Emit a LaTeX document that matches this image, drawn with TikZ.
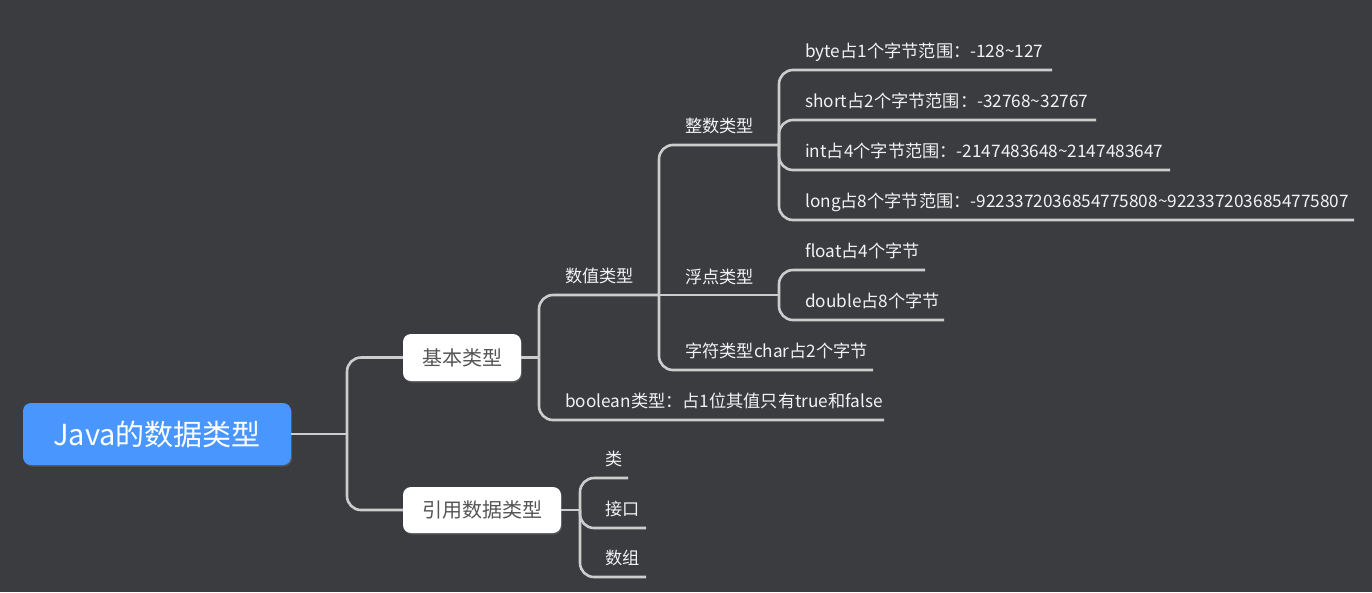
\documentclass[tikz,border=0pt]{standalone}
\usepackage{fontspec}
\setmainfont{Noto Sans CJK SC}
\usetikzlibrary{shadows}
\definecolor{bgc}{HTML}{3A3C40}
\definecolor{linec}{HTML}{CDCDCD}
\definecolor{labelc}{HTML}{F2F2F2}
\definecolor{boxtext}{HTML}{555555}
\definecolor{rootc}{HTML}{4A96FF}
\begin{document}
\begin{tikzpicture}[x=1pt,y=-1pt,
  conn/.style={draw=linec, line width=2.6pt, rounded corners=14pt},
  lbl/.style={anchor=base west, inner sep=0pt, text=labelc, font=\fontsize{17.2}{20}\selectfont},
  box/.style={fill=white, rounded corners=8pt, text=boxtext, font=\fontsize{20}{24}\selectfont, inner sep=0pt,
    drop shadow={shadow xshift=1pt, shadow yshift=-1.5pt, opacity=0.35}},
  rootbox/.style={fill=rootc, rounded corners=8pt, text=white, font=\fontsize{29}{34}\selectfont, inner sep=0pt,
    minimum width=268pt, minimum height=62pt,
    drop shadow={shadow xshift=1pt, shadow yshift=-1.5pt, opacity=0.35}},
]
\fill[bgc] (0,0) rectangle (1372,592);
\useasboundingbox (0,0) rectangle (1372,592);

% junction and line-end coordinates
\coordinate (j0) at (347,434);
\coordinate (j1) at (539,357.5);
\coordinate (j2) at (659,295);
\coordinate (j3) at (779,145);
\coordinate (j4) at (779,295);
\coordinate (j5) at (580,510);
\coordinate (boolE) at (884,420);
\coordinate (charE) at (873,370);
\coordinate (byteE) at (1052,70);
\coordinate (shortE) at (1096,120);
\coordinate (intE) at (1170,170);
\coordinate (longE) at (1354,220);
\coordinate (floatE) at (925,270);
\coordinate (doubleE) at (944,320);
\coordinate (leiE) at (628,478);
\coordinate (jiekouE) at (646,528);
\coordinate (shuzuE) at (646,577);

% connectors
\draw[conn] (j0) |- (403,357.5);
\draw[conn] (j0) |- (403,510);
\draw[conn] (j1) |- (j2);
\draw[conn] (j1) |- (boolE);
\draw[conn] (j2) |- (j3);
\draw[conn] (j2) -- (j4);
\draw[conn] (j2) |- (charE);
\draw[conn] (j3) |- (byteE);
\draw[conn] (j3) |- (shortE);
\draw[conn] (j3) |- (intE);
\draw[conn] (j3) |- (longE);
\draw[conn] (j4) |- (floatE);
\draw[conn] (j4) |- (doubleE);
\draw[conn] (j5) |- (leiE);
\draw[conn] (j5) |- (jiekouE);
\draw[conn] (j5) |- (shuzuE);

% nodes
\node[rootbox] (root) at (157,434) {Java的数据类型};
\node[box, minimum width=118pt, minimum height=47pt] (jiben) at (462,357.5) {基本类型};
\node[box, minimum width=158pt, minimum height=46pt] (yinyong) at (482,510) {引用数据类型};
\draw[conn] (root.east) -- (j0);
\draw[conn] (jiben.east) -- (j1);
\draw[conn] (yinyong.east) -- (j5);

\node[lbl] (shuzhi) at (565,282.5) {数值类型};
\node[lbl] (bool) at (565,407) {boolean类型：占1位其值只有true和false};
\node[lbl] (zhengshu) at (685,132) {整数类型};
\node[lbl] (fudian) at (685,283.5) {浮点类型};
\node[lbl] (char) at (685,357) {字符类型char占2个字节};
\node[lbl] (byte) at (805,57.5) {byte占1个字节范围：-128\textasciitilde127};
\node[lbl] (short) at (805,107.5) {short占2个字节范围：-32768\textasciitilde32767};
\node[lbl] (int) at (805,157.5) {int占4个字节范围：-2147483648\textasciitilde2147483647};
\node[lbl] (long) at (805,207.5) {long占8个字节范围：-9223372036854775808\textasciitilde9223372036854775807};
\node[lbl] (float) at (805,257.5) {float占4个字节};
\node[lbl] (double) at (805,307.5) {double占8个字节};
\node[lbl] (lei) at (605,465) {类};
\node[lbl] (jiekou) at (605,515) {接口};
\node[lbl] (shuzu) at (605,564) {数组};
\end{tikzpicture}
\end{document}
